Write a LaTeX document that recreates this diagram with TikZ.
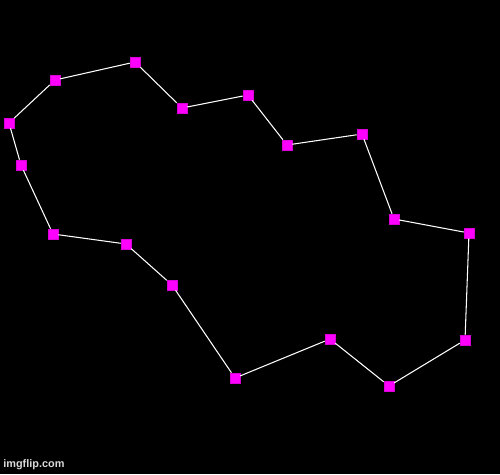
\documentclass[tikz,border=0pt]{standalone}
\usepackage{fontspec}
\setsansfont{Liberation Sans}
\usetikzlibrary{positioning}
\definecolor{vmag}{RGB}{255,0,255}
\definecolor{vmagdark}{RGB}{215,0,215}

\begin{document}
\begin{tikzpicture}[
    x=0.02cm, y=-0.02cm,
    % Styles
    vertex/.style={% magenta corner markers
        rectangle,
        fill=vmag,
        draw=vmagdark,
        line width=0.3pt,
        minimum size=0.2cm,
        inner sep=0pt,
        },
    edge/.style={% polygon sides
        draw=white,
        line width=0.6pt,
        },
    stamp/.style={% watermark
        font=\sffamily\bfseries\fontsize{6.2}{7}\selectfont,
        text=white!85!black,
        anchor=west,
        inner sep=0pt,
        },
    ]

    % Background
    \fill[black] (0,0) rectangle (500,474);
    \useasboundingbox (0,0) rectangle (500,474);

    % Corners of the polygon
    \node[vertex] (v1) at (55,80) {};
    \node[vertex] (v2) at (135,62) {};
    \node[vertex] (v3) at (182,108) {};
    \node[vertex] (v4) at (248,95) {};
    \node[vertex] (v5) at (287,145) {};
    \node[vertex] (v6) at (362,134) {};
    \node[vertex] (v7) at (394,219) {};
    \node[vertex] (v8) at (469,233) {};
    \node[vertex] (v9) at (465,340) {};
    \node[vertex] (v10) at (389,386) {};
    \node[vertex] (v11) at (330,339) {};
    \node[vertex] (v12) at (235,378) {};
    \node[vertex] (v13) at (172,285) {};
    \node[vertex] (v14) at (126,244) {};
    \node[vertex] (v15) at (53,234) {};
    \node[vertex] (v16) at (21,165) {};
    \node[vertex] (v17) at (9,123) {};

    % Sides
    \draw[edge] (v1) -- (v2) -- (v3) -- (v4) -- (v5) -- (v6) -- (v7) -- (v8) -- (v9);
    \draw[edge] (v9) -- (v10) -- (v11) -- (v12) -- (v13) -- (v14) -- (v15) -- (v16) -- (v17) -- (v1);

    % Watermark
    \node[stamp] (mark) at (3,465) {imgflip.com};
\end{tikzpicture}
\end{document}
